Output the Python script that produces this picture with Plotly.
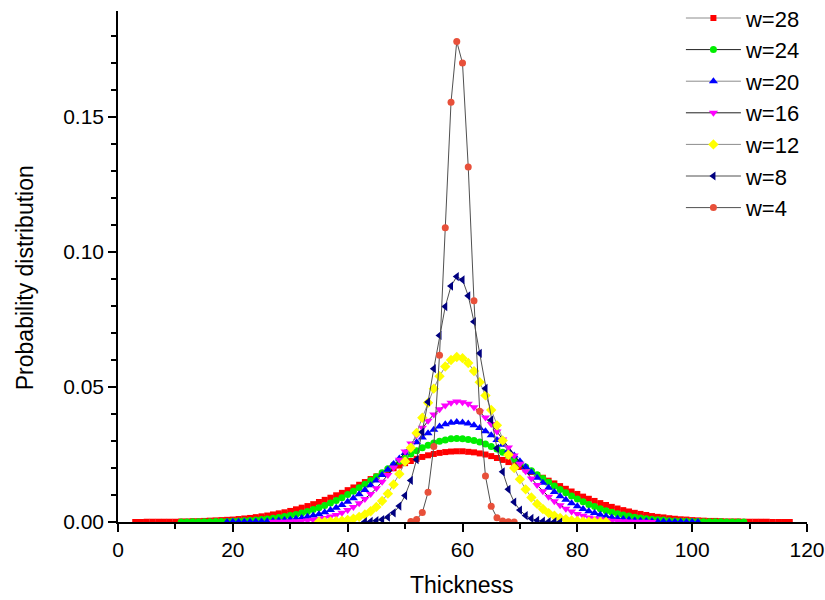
import plotly.graph_objects as go

# Thickness start for each series (consecutive integer thickness values)
start_w28 = 3
start_w24 = 11
start_w20 = 19
start_w16 = 27
start_w12 = 35
start_w8 = 43
start_w4 = 51

w28 = [0.0000, 0.0000, 0.0001, 0.0001, 0.0001, 0.0001, 0.0001, 0.0001, 0.0002, 0.0002,
       0.0003, 0.0003, 0.0004, 0.0005, 0.0006, 0.0007, 0.0008, 0.0009, 0.0011, 0.0013,
       0.0015, 0.0018, 0.0021, 0.0024, 0.0028, 0.0032, 0.0036, 0.0041, 0.0047, 0.0053,
       0.0059, 0.0066, 0.0074, 0.0082, 0.0090, 0.0099, 0.0108, 0.0118, 0.0128, 0.0138,
       0.0148, 0.0159, 0.0169, 0.0179, 0.0190, 0.0199, 0.0209, 0.0218, 0.0226, 0.0234,
       0.0241, 0.0247, 0.0252, 0.0256, 0.0259, 0.0261, 0.0262,
       0.0262, 0.0260, 0.0258, 0.0254, 0.0250, 0.0244, 0.0237, 0.0230, 0.0222, 0.0213,
       0.0204, 0.0195, 0.0185, 0.0174, 0.0164, 0.0153, 0.0143, 0.0133, 0.0123, 0.0113,
       0.0104, 0.0094, 0.0086, 0.0078, 0.0070, 0.0063, 0.0056, 0.0050, 0.0044, 0.0039,
       0.0034, 0.0030, 0.0026, 0.0022, 0.0019, 0.0017, 0.0014, 0.0012, 0.0010, 0.0009,
       0.0007, 0.0006, 0.0005, 0.0004, 0.0004, 0.0003, 0.0002, 0.0002, 0.0002, 0.0001,
       0.0001, 0.0001, 0.0001, 0.0001, 0.0000, 0.0000, 0.0000, 0.0000]

w24 = [0.0000, 0.0000, 0.0001, 0.0001, 0.0001, 0.0001, 0.0002, 0.0002, 0.0002, 0.0003,
       0.0004, 0.0005, 0.0006, 0.0007, 0.0009, 0.0011, 0.0014, 0.0017, 0.0020, 0.0024,
       0.0028, 0.0033, 0.0039, 0.0046, 0.0053, 0.0061, 0.0070, 0.0080, 0.0090, 0.0102,
       0.0114, 0.0127, 0.0140, 0.0154, 0.0168, 0.0182, 0.0197, 0.0211, 0.0225, 0.0239,
       0.0252, 0.0264, 0.0275, 0.0284, 0.0293, 0.0299, 0.0304, 0.0308, 0.0309,
       0.0308, 0.0306, 0.0302, 0.0296, 0.0289, 0.0280, 0.0270, 0.0258, 0.0246, 0.0232,
       0.0218, 0.0204, 0.0190, 0.0175, 0.0161, 0.0147, 0.0133, 0.0120, 0.0108, 0.0096,
       0.0085, 0.0075, 0.0065, 0.0057, 0.0049, 0.0042, 0.0036, 0.0031, 0.0026, 0.0022,
       0.0018, 0.0015, 0.0012, 0.0010, 0.0008, 0.0007, 0.0005, 0.0004, 0.0003, 0.0003,
       0.0002, 0.0002, 0.0001, 0.0001, 0.0001, 0.0001, 0.0000, 0.0000, 0.0000, 0.0000]

w20 = [0.0000, 0.0001, 0.0001, 0.0001, 0.0001, 0.0002, 0.0002, 0.0003, 0.0004, 0.0006,
       0.0007, 0.0009, 0.0012, 0.0015, 0.0019, 0.0024, 0.0029, 0.0036, 0.0044, 0.0053,
       0.0063, 0.0075, 0.0088, 0.0103, 0.0119, 0.0136, 0.0154, 0.0174, 0.0194, 0.0215,
       0.0235, 0.0256, 0.0276, 0.0295, 0.0313, 0.0329, 0.0342, 0.0354, 0.0362, 0.0368,
       0.0370,
       0.0369, 0.0365, 0.0358, 0.0348, 0.0336, 0.0321, 0.0304, 0.0286, 0.0266, 0.0246,
       0.0225, 0.0204, 0.0184, 0.0164, 0.0145, 0.0127, 0.0111, 0.0095, 0.0082, 0.0069,
       0.0058, 0.0048, 0.0040, 0.0033, 0.0027, 0.0021, 0.0017, 0.0013, 0.0011, 0.0008,
       0.0006, 0.0005, 0.0004, 0.0003, 0.0002, 0.0002, 0.0001, 0.0001, 0.0001, 0.0000,
       0.0000, 0.0000]

w16 = [0.0001, 0.0001, 0.0001, 0.0002, 0.0003, 0.0004, 0.0006, 0.0008, 0.0011, 0.0015,
       0.0020, 0.0026, 0.0034, 0.0044, 0.0056, 0.0069, 0.0085, 0.0104, 0.0125, 0.0149,
       0.0174, 0.0202, 0.0231, 0.0261, 0.0291, 0.0321, 0.0349, 0.0375, 0.0398, 0.0418,
       0.0432, 0.0442, 0.0446,
       0.0444, 0.0438, 0.0425, 0.0408, 0.0387, 0.0363, 0.0335, 0.0306, 0.0276, 0.0246,
       0.0216, 0.0188, 0.0161, 0.0137, 0.0114, 0.0094, 0.0077, 0.0062, 0.0049, 0.0039,
       0.0030, 0.0023, 0.0017, 0.0013, 0.0010, 0.0007, 0.0005, 0.0004, 0.0003, 0.0002,
       0.0001, 0.0001, 0.0001, 0.0000]

w12 = [0.0001, 0.0001, 0.0002, 0.0003, 0.0005, 0.0008, 0.0012, 0.0019, 0.0028, 0.0040,
       0.0056, 0.0078, 0.0105, 0.0139, 0.0178, 0.0224, 0.0275, 0.0330, 0.0386, 0.0442,
       0.0494, 0.0540, 0.0576, 0.0600, 0.0611,
       0.0607, 0.0589, 0.0559, 0.0518, 0.0469, 0.0415, 0.0358, 0.0302, 0.0249, 0.0200,
       0.0158, 0.0121, 0.0091, 0.0067, 0.0048, 0.0033, 0.0023, 0.0015, 0.0010, 0.0006,
       0.0004, 0.0002, 0.0001, 0.0001, 0.0000, 0.0000]

w8 = [0.0001, 0.0002, 0.0005, 0.0009, 0.0018, 0.0034, 0.0059, 0.0098, 0.0154, 0.0231,
      0.0333, 0.0445, 0.0568, 0.0691, 0.0798, 0.0874, 0.0909,
      0.0897, 0.0838, 0.0742, 0.0625, 0.0495, 0.0378, 0.0273, 0.0186, 0.0121, 0.0074,
      0.0044, 0.0024, 0.0013, 0.0006, 0.0003, 0.0001, 0.0001, 0.0000]

w4 = [0.0002, 0.0009, 0.0035, 0.0110, 0.0280, 0.0618, 0.1090, 0.1555, 0.1780,
      0.1700, 0.1315, 0.0820, 0.0410, 0.0170, 0.0058, 0.0016, 0.0004, 0.0001, 0.0000]

series = [
    ("w=28", start_w28, w28, dict(symbol="square", size=6, color="#ff0000"), "#8c8c8c"),
    ("w=24", start_w24, w24, dict(symbol="circle", size=7, color="#00ee00"), "#202020"),
    ("w=20", start_w20, w20, dict(symbol="triangle-up", size=8, color="#0000ff"), "#8c8c8c"),
    ("w=16", start_w16, w16, dict(symbol="triangle-down", size=8, color="#ff00ff"), "#202020"),
    ("w=12", start_w12, w12, dict(symbol="diamond", size=8, color="#ffff00"), "#8c8c8c"),
    ("w=8", start_w8, w8, dict(symbol="triangle-left", size=8, color="#000080"), "#505050"),
    ("w=4", start_w4, w4, dict(symbol="circle", size=7, color="#e8503a"), "#505050"),
]

fig = go.Figure()
for name, s, ys, mk, lc in series:
    xs = list(range(s, s + len(ys)))
    fig.add_trace(go.Scatter(
        x=xs, y=ys, mode="lines+markers", name=name,
        line=dict(color=lc, width=1),
        marker=dict(line=dict(width=0), **mk),
    ))

FONT = "Liberation Sans, Arial, sans-serif"
axis_font = dict(family=FONT, size=21, color="#000")
fig.update_layout(
    width=825, height=600,
    margin=dict(l=118, r=18, t=11, b=78, autoexpand=False),
    paper_bgcolor="white", plot_bgcolor="white",
    font=dict(family=FONT, color="#000"),
    showlegend=True,
    legend=dict(
        x=0.817, y=1.027, xanchor="left", yanchor="top",
        bgcolor="rgba(0,0,0,0)", font=dict(size=22, color="#000"),
        itemwidth=55, tracegroupgap=0,
    ),
    annotations=[
        dict(text="Thickness", xref="paper", yref="paper", x=0.499, y=-0.124,
             xanchor="center", yanchor="middle", showarrow=False,
             font=dict(family=FONT, size=23, color="#000")),
        dict(text="Probability distribution", xref="paper", yref="paper", x=-0.135, y=0.479,
             xanchor="center", yanchor="middle", showarrow=False, textangle=-90,
             font=dict(family=FONT, size=23, color="#000")),
    ],
)
fig.update_xaxes(
    range=[0, 120], tick0=0, dtick=20, automargin=False,
    showline=True, linecolor="#000", linewidth=1.5,
    ticks="outside", ticklen=8, tickwidth=1.5, tickcolor="#000",
    minor=dict(dtick=10, ticks="outside", ticklen=5, tickwidth=1.5, tickcolor="#000", showgrid=False),
    showgrid=False, zeroline=False, tickfont=axis_font,
)
fig.update_yaxes(
    range=[0, 0.1893], tick0=0, dtick=0.05, tickformat=".2f", automargin=False,
    showline=True, linecolor="#000", linewidth=1.5,
    ticks="outside", ticklen=8, tickwidth=1.5, tickcolor="#000",
    minor=dict(dtick=0.01, ticks="outside", ticklen=5, tickwidth=1.5, tickcolor="#000", showgrid=False),
    showgrid=False, zeroline=False, tickfont=axis_font,
)
fig.write_html("out.html")
